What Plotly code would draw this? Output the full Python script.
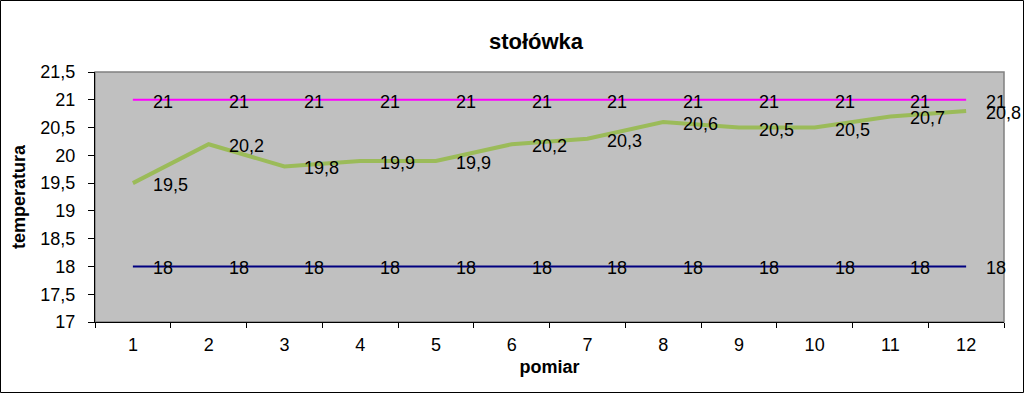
import plotly.graph_objects as go

pomiar = [str(i) for i in range(1, 13)]
temperatura = [19.5, 20.2, 19.8, 19.9, 19.9, 20.2, 20.3, 20.6, 20.5, 20.5, 20.7, 20.8]
gorna = [21] * 12
dolna = [18] * 12
y_ticks = [17, 17.5, 18, 18.5, 19, 19.5, 20, 20.5, 21, 21.5]


def fmt(v):
    return ("%g" % v).replace(".", ",")


FONT = "Liberation Sans, Arial, sans-serif"
W, H = 1024, 393
L, R, T, B = 95, 20, 72, 71
PW, PH = W - L - R, H - T - B

fig = go.Figure()
annotations = []


def add(y, color, width):
    fig.add_trace(go.Scatter(
        x=pomiar, y=y, mode="lines",
        line=dict(color=color, width=width),
        hoverinfo="skip", showlegend=False))
    # category axis: annotation x is the category index
    for idx, yv in enumerate(y):
        annotations.append(dict(
            x=idx, y=yv, xref="x", yref="y", text=fmt(yv), showarrow=False,
            xanchor="left", yanchor="middle", xshift=18, yshift=-2,
            font=dict(family=FONT, size=18, color="black")))


add(gorna, "#FF00FF", 2)
add(dolna, "#000080", 2)
add(temperatura, "#9BBB59", 4)

# plot area border (grey top/right)
fig.add_shape(type="rect", xref="paper", yref="paper", x0=0, x1=1, y0=0, y1=1,
              line=dict(color="#808080", width=1.5), layer="below")
# outer chart border
fig.add_shape(type="rect", xref="paper", yref="paper",
              x0=-(L - 0.5) / PW, x1=1 + (R - 0.5) / PW,
              y0=-(B - 0.5) / PH, y1=1 + (T - 0.5) / PH,
              line=dict(color="black", width=1))

fig.update_layout(
    width=W, height=H,
    margin=dict(l=L, r=R, t=T, b=B, pad=0),
    paper_bgcolor="white", plot_bgcolor="#C0C0C0",
    separators=", ",
    annotations=annotations,
    font=dict(family=FONT, size=18, color="black"),
    title=dict(text="<b>stołówka</b>", x=536 / W, xref="container", xanchor="center",
               y=1 - 41 / H, yanchor="middle", font=dict(size=22, family=FONT)),
    xaxis=dict(type="category", range=[-0.5, 11.5], showgrid=False, zeroline=False,
               showline=True, linecolor="black", linewidth=1,
               ticks="outside", ticklen=5, tickcolor="black", tickson="boundaries",
               tickfont=dict(size=18), ticklabelstandoff=6,
               title=dict(text="<b>pomiar</b>", font=dict(size=18), standoff=6)),
    yaxis=dict(range=[17, 21.5], tickvals=y_ticks, showgrid=False, zeroline=False,
               showline=True, linecolor="black", linewidth=1,
               ticks="outside", ticklen=6, tickcolor="black",
               tickfont=dict(size=18), ticklabelstandoff=9,
               title=dict(text="<b>temperatura</b>", font=dict(size=18), standoff=10)),
)

fig.write_html("out.html")
